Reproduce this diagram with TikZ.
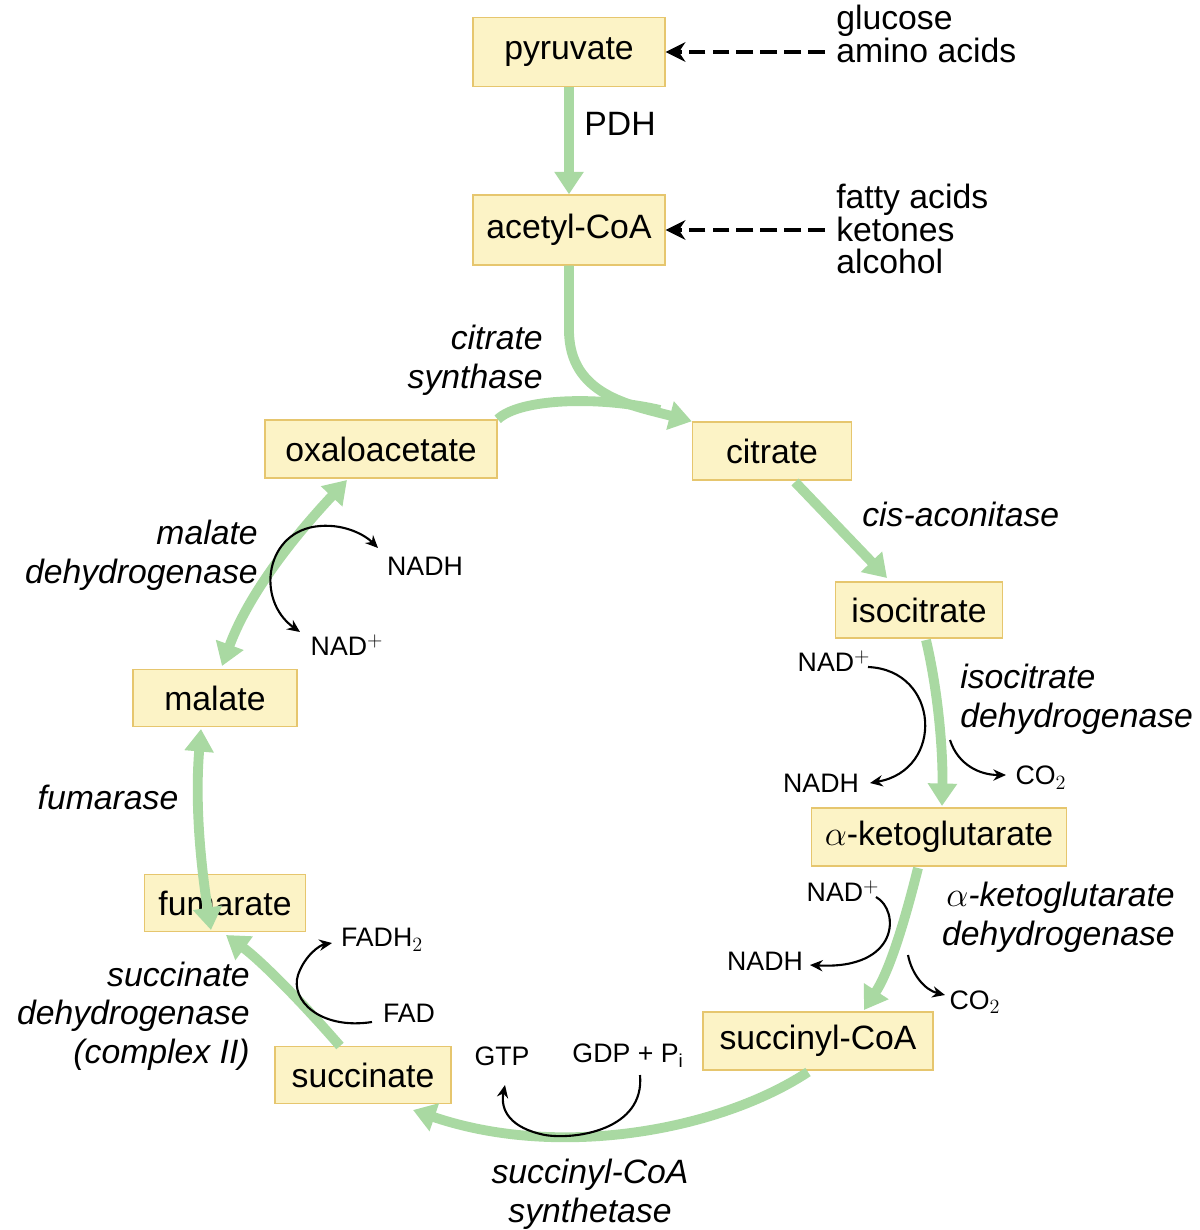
\documentclass[tikz,border=0pt]{standalone}
\usepackage{fontspec}
\setmainfont{Liberation Sans}
\usetikzlibrary{arrows.meta}
\definecolor{boxfill}{HTML}{FCF3C6}
\definecolor{boxdraw}{HTML}{E6C66E}
\definecolor{grn}{HTML}{A9D9A2}
\begin{document}
\begin{tikzpicture}[x=0.025cm,y=-0.025cm,
  box/.style={draw=boxdraw,fill=boxfill,line width=1pt,minimum height=58*0.025cm,inner sep=0pt,font=\fontsize{24}{28}\selectfont},
  enz/.style={font=\fontsize{24}{27.5}\selectfont\itshape,inner sep=0pt},
  sm/.style={font=\fontsize{19}{22}\selectfont,inner sep=0pt},
  big/.style={font=\fontsize{24}{27}\selectfont,inner sep=0pt,anchor=west,align=left},
  g/.style={draw=grn,line width=7pt,-{Triangle[length=16pt,width=20pt]}},
  gg/.style={draw=grn,line width=7pt,{Triangle[length=16pt,width=20pt]}-{Triangle[length=16pt,width=20pt]}},
  k/.style={draw=black,line width=1.5pt,-{Stealth[length=9pt,width=8pt]}},
  dsh/.style={draw=black,line width=3pt,dash pattern=on 12pt off 5pt,-{Stealth[length=14pt,width=14pt]}}]
\useasboundingbox (0,0) rectangle (1200,1230);
% boxes
\node[box,minimum width=192*0.025cm,minimum height=69*0.025cm] (pyr) at (569,52) {pyruvate};
\node[box,minimum width=192*0.025cm,minimum height=70*0.025cm] (acc) at (569,230) {acetyl-CoA};
\node[box,minimum width=232*0.025cm] (oaa) at (381,449) {oxaloacetate};
\node[box,minimum width=159*0.025cm] (cit) at (772,451) {citrate};
\node[box,minimum width=167*0.025cm,minimum height=56*0.025cm] (iso) at (919,610) {isocitrate};
\node[box,minimum width=255*0.025cm] (akg) at (939,837) {$\alpha$-ketoglutarate};
\node[box,minimum width=230*0.025cm] (sca) at (818,1041) {succinyl-CoA};
\node[box,minimum width=176*0.025cm,minimum height=57*0.025cm] (suc) at (363,1075) {succinate};
\node[box,minimum width=161*0.025cm,minimum height=57*0.025cm] (fum) at (225,903) {fumarate};
\node[box,minimum width=164*0.025cm,minimum height=57*0.025cm] (mal) at (215,698) {malate};
% sources
\node[big] (src1) at (836,34) {glucose\\[-4pt]amino acids};
\node[big] (src2) at (836,229) {fatty acids\\[-4pt]ketones\\[-4pt]alcohol};
\coordinate (d1) at (825,52);
\coordinate (d2) at (825,230);
\draw[dsh] (d1) -- (pyr.east);
\draw[dsh] (d2) -- (acc.east);
% green arrows
\draw[g] (pyr.south) -- (acc.north);
\draw[g] (acc.south) -- (569,330) .. controls (569,395) and (630,405) .. (cit.north west);
\draw[draw=grn,line width=7pt] (oaa.north east) .. controls (520,398) and (600,396) .. (660,410);
\draw[g] (795,482) -- (887,578);
\draw[g] (926,640) .. controls (940,700) and (943,760) .. (942,806);
\draw[g] (918,868) .. controls (905,920) and (890,970) .. (864,1010);
\draw[g] (808,1072) .. controls (720,1130) and (560,1160) .. (413,1110);
\draw[g] (340,1046) .. controls (300,1000) and (260,960) .. (226,935);
\draw[gg] (211,930) .. controls (200,860) and (195,800) .. (201,729);
\draw[gg] (222,666) .. controls (250,590) and (300,530) .. (347,480);
% enzyme labels
\node[sm,font=\fontsize{24}{27}\selectfont] (pdh) at (620,124) {PDH};
\node[enz,anchor=east,align=right] (cs) at (543,360) {citrate\\synthase};
\node[enz,anchor=west] (aco) at (862,514) {cis-aconitase};
\node[enz,anchor=west,align=left] (idh) at (960,699) {isocitrate\\dehydrogenase};
\node[enz,anchor=east,align=right] (kdh) at (1175,917) {$\alpha$-ketoglutarate\\dehydrogenase};
\node[enz,align=center] (scs) at (590,1194) {succinyl-CoA\\synthetase};
\node[enz,anchor=east,align=right] (sdh) at (250,1016) {succinate\\dehydrogenase\\(complex II)};
\node[enz] (fase) at (108,797) {fumarase};
\node[enz,anchor=east,align=right] (mdh) at (258,555) {malate\\dehydrogenase};
% cofactors
\node[sm] (n1) at (425,566) {NADH};
\node[sm] (n2) at (347,645) {NAD$^{+}$};
\node[sm] (n3) at (834,661) {NAD$^{+}$};
\node[sm] (n4) at (821,783) {NADH};
\node[sm] (c1) at (1041,778) {CO$_2$};
\node[sm] (n5) at (843,891) {NAD$^{+}$};
\node[sm] (n6) at (765,961) {NADH};
\node[sm] (c2) at (975,1002) {CO$_2$};
\node[sm] (gtp) at (502,1056) {GTP};
\node[sm] (gdp) at (628,1056) {GDP + P$_\mathrm{i}$};
\node[sm] (fh) at (382,940) {FADH$_2$};
\node[sm] (fad) at (409,1013) {FAD};
% black arrows
\draw[k,{Stealth[length=9pt,width=8pt]}-{Stealth[length=9pt,width=8pt]}] (300,632) .. controls (255,600) and (265,530) .. (320,526) .. controls (345,524) and (365,535) .. (378,548);
\draw[k] (868,667) .. controls (940,670) and (945,770) .. (870,783);
\draw[k] (950,740) .. controls (958,765) and (980,775) .. (1006,775);
\draw[k] (876,897) .. controls (900,910) and (900,970) .. (810,965);
\draw[k] (908,955) .. controls (912,975) and (925,990) .. (945,995);
\draw[k] (640,1075) .. controls (645,1130) and (575,1140) .. (545,1135) .. controls (510,1128) and (500,1110) .. (505,1085);
\draw[k] (372,1022) .. controls (320,1030) and (290,1000) .. (298,975) .. controls (305,955) and (320,945) .. (332,943);
\end{tikzpicture}
\end{document}
